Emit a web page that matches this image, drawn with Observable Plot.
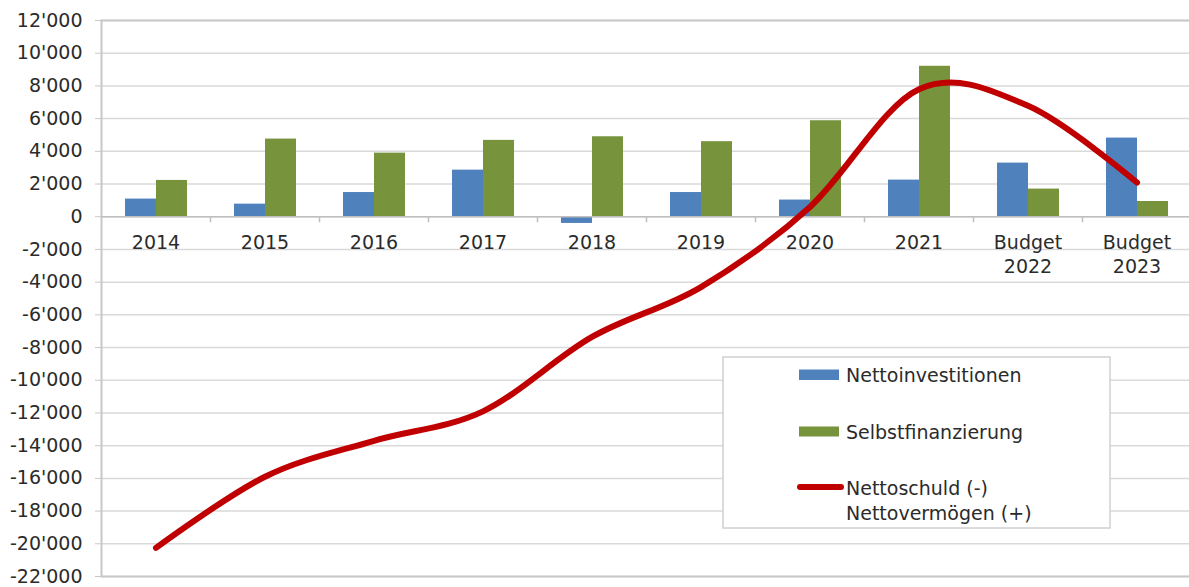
<!DOCTYPE html>
<html>
<head>
<meta charset="utf-8">
<script src="https://cdn.jsdelivr.net/npm/d3@7"></script>
<script src="https://cdn.jsdelivr.net/npm/@observablehq/plot@0.6"></script>
<style>
  html, body { margin: 0; padding: 0; background: #fff; }
  #wrap { position: relative; width: 1189px; height: 587px; overflow: hidden; }
  #legend { position: absolute; left: 0; top: 0; pointer-events: none; }
</style>
</head>
<body>
<div id="wrap"></div>
<script>
// ---- data ----
const categories = ["2014", "2015", "2016", "2017", "2018", "2019", "2020", "2021", "Budget\n2022", "Budget\n2023"];
const nettoinvestitionen = [1080, 770, 1480, 2850, -410, 1480, 1020, 2240, 3280, 4810];
const selbstfinanzierung = [2220, 4750, 3890, 4670, 4890, 4590, 5870, 9200, 1690, 930];
const nettoschuld = [-20250, -15900, -13700, -11900, -7350, -4300, 600, 7800, 6780, 2090];
const yTicks = [-22000, -20000, -18000, -16000, -14000, -12000, -10000, -8000, -6000, -4000, -2000, 0, 2000, 4000, 6000, 8000, 10000, 12000];
const seriesNames = ["Nettoinvestitionen", "Selbstfinanzierung", "Nettoschuld (-)\nNettovermögen (+)"];

const data = categories.map((c, i) => ({
  cat: c,
  inv: nettoinvestitionen[i],
  self: selbstfinanzierung[i],
  net: nettoschuld[i]
}));

// ---- layout ----
const W = 1189, H = 587, ML = 101, MR = -2, MT = 20, MB = 11;
const bw = (W - ML - MR) / categories.length;
const FONT = "DejaVu Sans";
const TEXT = "#2b2b2b";
const COLORS = ["#4f81bd", "#77933c", "#c00000"];

const fmt = d3.formatLocale({decimal: ".", thousands: "'", grouping: [3], currency: ["", ""], minus: "-"}).format(",.0f");

const chart = Plot.plot({
  width: W,
  height: H,
  marginLeft: ML,
  marginRight: MR,
  marginTop: MT,
  marginBottom: MB,
  style: {fontFamily: FONT, fontSize: "19px", color: TEXT, background: "white", overflow: "visible"},
  x: {type: "band", domain: categories, padding: 0, round: false, axis: null},
  y: {domain: [-22000, 12000], axis: null},
  marks: [
    Plot.ruleY(yTicks, {stroke: "#d9d9d9", strokeWidth: 1.5}),
    Plot.frame({stroke: "#c8c8c8", strokeWidth: 2}),
    Plot.axisY({ticks: yTicks, tickFormat: fmt, tickSize: 6, tickPadding: 13, stroke: "#c8c8c8", fill: TEXT, fontSize: 19, label: null}),
    Plot.barY(data, {x: "cat", y: "inv", fill: COLORS[0], insetLeft: 24, insetRight: bw - 55}),
    Plot.barY(data, {x: "cat", y: "self", fill: COLORS[1], insetLeft: 55, insetRight: bw - 86}),
    Plot.ruleY([0], {stroke: "#bfbfbf", strokeWidth: 1.5}),
    Plot.ruleX(categories.slice(1), {x: d => d, y1: 0, y2: 0, insetBottom: -6, dx: -bw / 2, stroke: "#bfbfbf", strokeWidth: 1.5}),
    Plot.text(categories, {x: d => d, y: 0, text: d => d, lineAnchor: "top", dy: 15.5, lineHeight: 1.25, fill: TEXT, fontSize: 19}),
    Plot.line(data, {x: "cat", y: "net", curve: "cardinal", stroke: COLORS[2], strokeWidth: 6, strokeLinecap: "round", strokeLinejoin: "round"})
  ]
});

const wrap = document.getElementById("wrap");
wrap.appendChild(chart);

// ---- legend overlay (inside plot area, as in the reference) ----
const leg = d3.create("svg")
  .attr("id", "legend")
  .attr("width", W).attr("height", H)
  .attr("font-family", FONT).attr("font-size", 19).attr("fill", TEXT);
leg.append("rect").attr("x", 723).attr("y", 357).attr("width", 387).attr("height", 171)
  .attr("fill", "white").attr("stroke", "#d0d0d0").attr("stroke-width", 1.5);
leg.append("rect").attr("x", 799).attr("y", 369.5).attr("width", 40).attr("height", 10.5).attr("fill", COLORS[0]);
leg.append("rect").attr("x", 799).attr("y", 426.5).attr("width", 40).attr("height", 10).attr("fill", COLORS[1]);
leg.append("line").attr("x1", 800).attr("x2", 841).attr("y1", 487).attr("y2", 487)
  .attr("stroke", COLORS[2]).attr("stroke-width", 6).attr("stroke-linecap", "round");
const baselines = [[381.7], [438.5], [495, 519.5]];
seriesNames.forEach((name, i) => {
  const t = leg.append("text").attr("x", 846);
  name.split("\n").forEach((line, j) => {
    t.append("tspan").attr("x", 846).attr("y", baselines[i][j]).text(line);
  });
});
wrap.appendChild(leg.node());
</script>
</body>
</html>
